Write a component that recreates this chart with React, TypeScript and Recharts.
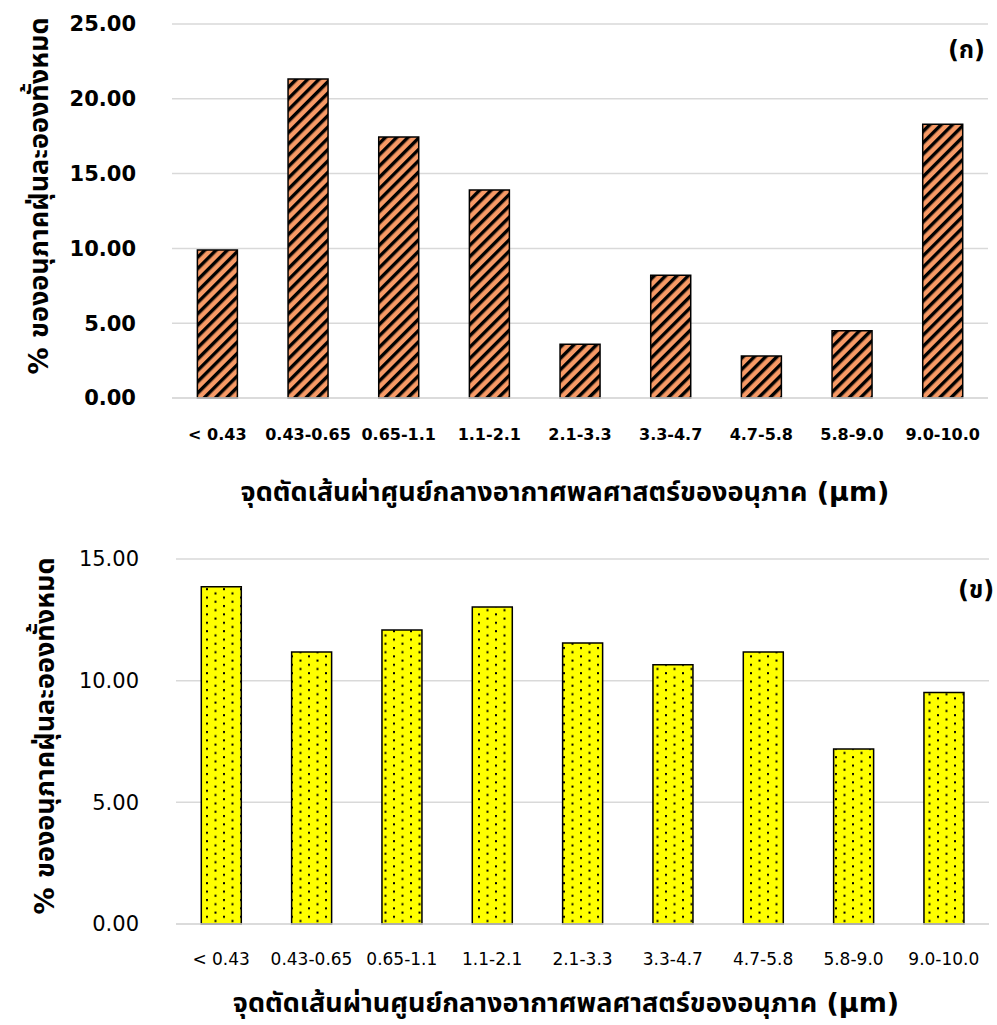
import { BarChart, Bar, XAxis, YAxis, CartesianGrid } from "recharts";

const categories = [
  "< 0.43",
  "0.43-0.65",
  "0.65-1.1",
  "1.1-2.1",
  "2.1-3.3",
  "3.3-4.7",
  "4.7-5.8",
  "5.8-9.0",
  "9.0-10.0",
];

// panel (ก) and panel (ข), % of total particles
const shareA = [9.89, 21.32, 17.45, 13.9, 3.6, 8.2, 2.8, 4.5, 18.3];
const shareB = [13.86, 11.18, 12.08, 13.03, 11.55, 10.65, 11.18, 7.19, 9.51];

const ticksA = [0, 5, 10, 15, 20, 25];
const ticksB = [0, 5, 10, 15];

const yTitle = "% ของอนุภาคฝุ่นละอองทั้งหมด";
const xTitleA = "จุดตัดเส้นผ่าศูนย์กลางอากาศพลศาสตร์ของอนุภาค (µm)";
const xTitleB = "จุดตัดเส้นผ่านศูนย์กลางอากาศพลศาสตร์ของอนุภาค (µm)";

const FONT = "Tahoma, 'DejaVu Sans', 'Noto Sans Thai', 'Noto Sans', sans-serif";

const dataA = categories.map((c, i) => ({ name: c, value: shareA[i] }));
const dataB = categories.map((c, i) => ({ name: c, value: shareB[i] }));

const fmt = (v: number) => v.toFixed(2);

function Title({ text, size = 27, style }: { text: string; size?: number; style: React.CSSProperties }) {
  return (
    <div
      style={{
        position: "absolute",
        fontFamily: FONT,
        fontWeight: 700,
        fontSize: size,
        lineHeight: 1,
        color: "#000",
        whiteSpace: "nowrap",
        ...style,
      }}
    >
      {text}
    </div>
  );
}

export default function App() {
  return (
    <div style={{ position: "absolute", left: 0, top: 0, width: 997, height: 1025, background: "#fff" }}>
      <svg width={0} height={0} style={{ position: "absolute" }}>
        <defs>
          <pattern id="stripes" width={8} height={8} patternUnits="userSpaceOnUse" patternTransform="rotate(45)">
            <rect width={8} height={8} fill="#F79A66" />
            <rect width={3.4} height={8} fill="#000" />
          </pattern>
          <pattern id="dots" width={17} height={8.4} patternUnits="userSpaceOnUse">
            <rect width={17} height={8.4} fill="#FFFF00" />
            <rect x={2} y={1} width={2} height={2} fill="#000" />
            <rect x={10.5} y={5.2} width={2} height={2} fill="#000" />
          </pattern>
        </defs>
      </svg>

      {/* panel (ก) */}
      <div style={{ position: "absolute", left: 0, top: 0 }}>
        <BarChart
          width={997}
          height={520}
          data={dataA}
          margin={{ top: 24, right: 9, left: 0, bottom: 0 }}
          barCategoryGap="28%"
        >
          <CartesianGrid vertical={false} stroke="#d9d9d9" strokeWidth={1.5} />
          <XAxis
            dataKey="name"
            height={122}
            tickLine={false}
            axisLine={{ stroke: "#d9d9d9", strokeWidth: 1.5 }}
            tickMargin={25}
            interval={0}
            tick={{ fontFamily: FONT, fontSize: 16, fontWeight: 700, fill: "#000" }}
          />
          <YAxis
            width={172}
            domain={[0, 25]}
            ticks={ticksA}
            tickFormatter={fmt}
            tickLine={false}
            axisLine={false}
            tickMargin={30}
            tick={{ fontFamily: FONT, fontSize: 21, fontWeight: 700, fill: "#000" }}
          />
          <Bar dataKey="value" fill="url(#stripes)" stroke="#000" strokeWidth={1.5} isAnimationActive={false} />
        </BarChart>
      </div>
      <Title text="(ก)" size={24} style={{ left: 948, top: 38 }} />
      <Title text={xTitleA} style={{ left: 565, top: 478, transform: "translateX(-50%)" }} />
      <Title
        text={yTitle}
        style={{ left: 38, top: 196, transform: "translate(-50%, -50%) rotate(-90deg)" }}
      />

      {/* panel (ข) */}
      <div style={{ position: "absolute", left: 0, top: 520 }}>
        <BarChart
          width={997}
          height={505}
          data={dataB}
          margin={{ top: 39, right: 8, left: 0, bottom: 0 }}
          barCategoryGap="28%"
        >
          <CartesianGrid vertical={false} stroke="#d9d9d9" strokeWidth={1.5} />
          <XAxis
            dataKey="name"
            height={101}
            tickLine={false}
            axisLine={{ stroke: "#d9d9d9", strokeWidth: 1.5 }}
            tickMargin={23}
            interval={0}
            tick={{ fontFamily: FONT, fontSize: 17, fill: "#000" }}
          />
          <YAxis
            width={176}
            domain={[0, 15]}
            ticks={ticksB}
            tickFormatter={fmt}
            tickLine={false}
            axisLine={false}
            tickMargin={31}
            tick={{ fontFamily: FONT, fontSize: 21, fill: "#000" }}
          />
          <Bar dataKey="value" fill="url(#dots)" stroke="#000" strokeWidth={1.5} isAnimationActive={false} />
        </BarChart>
      </div>
      <Title text="(ข)" size={24} style={{ left: 958, top: 578 }} />
      <Title text={xTitleB} style={{ left: 566, top: 989, transform: "translateX(-50%)" }} />
      <Title
        text={yTitle}
        style={{ left: 44, top: 736, transform: "translate(-50%, -50%) rotate(-90deg)" }}
      />
    </div>
  );
}
